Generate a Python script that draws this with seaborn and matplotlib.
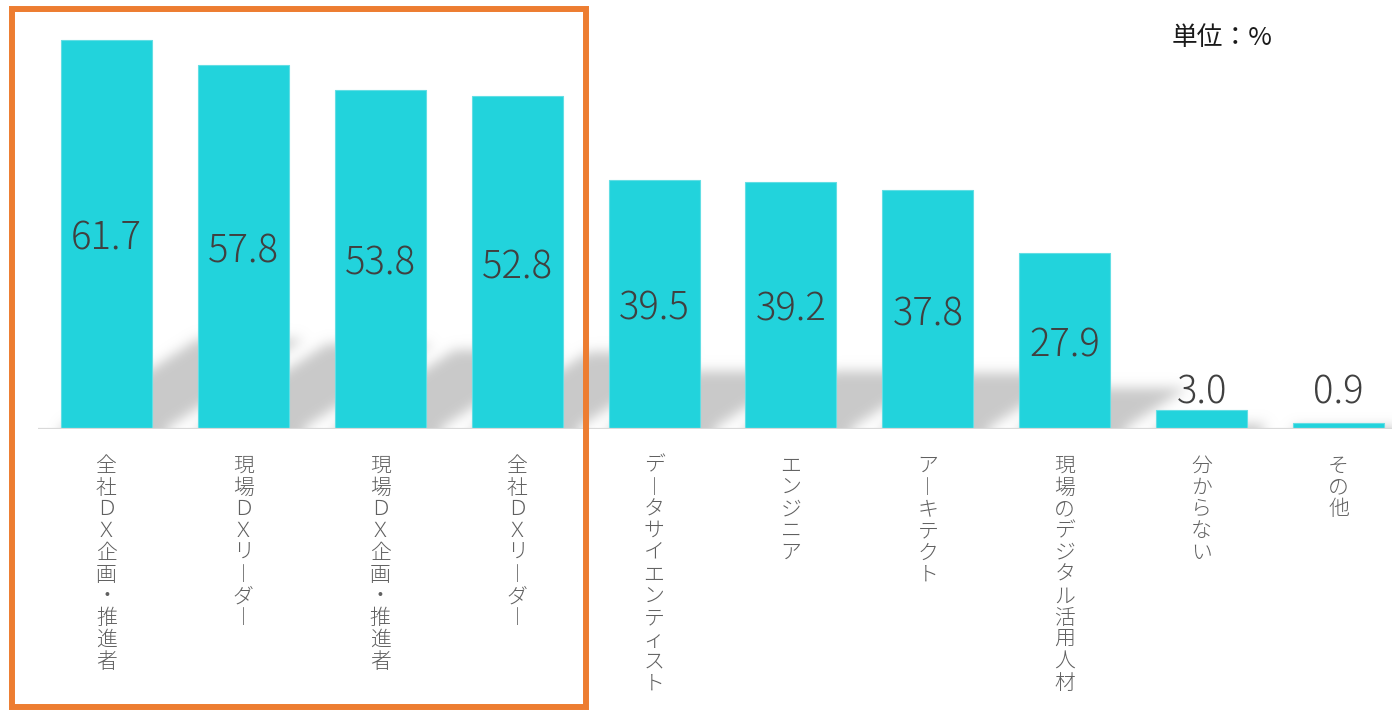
import numpy as np
import matplotlib
matplotlib.use("Agg")
import matplotlib.pyplot as plt
import seaborn as sns
import pandas as pd
from matplotlib.patches import Rectangle
from matplotlib.transforms import offset_copy

# ---- data ----
categories = ["全社DX企画・推進者", "現場DXリーダー", "現場DX企画・推進者", "全社DXリーダー",
              "データサイエンティスト", "エンジニア", "アーキテクト", "現場のデジタル活用人材",
              "分からない", "その他"]
values = [61.7, 57.8, 53.8, 52.8, 39.5, 39.2, 37.8, 27.9, 3.0, 0.9]
unit_label = "単位：%"

sns.set_theme(style="white")
plt.rcParams['font.family'] = ['Noto Sans CJK JP', 'DejaVu Sans']

W, H = 1392, 710
fig = plt.figure(figsize=(W / 100, H / 100), dpi=100)
base_px = 428.5
ymax = 68.05
ax = fig.add_axes([38 / W, (H - base_px) / H, 1369 / W, base_px / H])

bw = 0.665
df = pd.DataFrame({"cat": categories, "val": values})
sns.barplot(data=df, x="cat", y="val", order=categories, color="#22D3DC", saturation=1,
            width=bw, edgecolor="#62DEE4", linewidth=0.8, ax=ax, zorder=3)
ax.set_xlim(-0.5, 9.5)
ax.set_ylim(0, ymax)

# ---- blurred perspective shadows ----
sx = ax.transData.transform((1, 0))[0] - ax.transData.transform((0, 0))[0]
sy = ax.transData.transform((0, 1))[1] - ax.transData.transform((0, 0))[1]
nx = int(round(10 * sx))
ny = int(round(ymax * sy))
pad = 40
xs = np.arange(nx) + 0.5
ys = np.arange(-pad, ny) + 0.5
X, Y = np.meshgrid(xs, ys)
mask = np.zeros_like(X)
k = 0.65
for i, v in enumerate(values):
    x0 = (i - bw / 2 + 0.5) * sx
    x1 = (i + bw / 2 + 0.5) * sx
    hs = 0.23 * v * sy
    Yc = np.clip(Y, 0, None)
    m = (Y <= hs) & (X >= x0 + Yc / k) & (X <= x1 + 15 + Yc / k)
    mask = np.maximum(mask, m.astype(float))


def blur1d(a, sigma, axis):
    r = int(3 * sigma)
    t = np.arange(-r, r + 1)
    kern = np.exp(-t ** 2 / (2 * sigma ** 2))
    kern /= kern.sum()
    padw = [(0, 0), (0, 0)]
    padw[axis] = (r, r)
    ap = np.pad(a, padw, mode='edge')
    out = np.zeros_like(a)
    for j, kv in enumerate(kern):
        sl = [slice(None), slice(None)]
        sl[axis] = slice(j, j + a.shape[axis])
        out += kv * ap[tuple(sl)]
    return out


mask = blur1d(blur1d(mask, 6, 0), 6, 1)[pad:]
img = np.zeros((mask.shape[0], mask.shape[1], 4))
img[..., :3] = 0.79
img[..., 3] = np.clip(mask, 0, 1)
ax.imshow(img, origin='lower', extent=(-0.5, 9.5, 0, mask.shape[0] / sy),
          aspect='auto', zorder=1, interpolation='bilinear')
ax.set_xlim(-0.5, 9.5)
ax.set_ylim(0, ymax)

# baseline
ax.axhline(0, color="#D9D9D9", lw=1.6, zorder=4)

# value labels
lab_trans = offset_copy(ax.transData, fig=fig, x=0, y=-5, units='dots')
for i, v in enumerate(values):
    ax.text(i, max(v / 2, 6.43), f"{v:.1f}", ha='center', va='center', fontsize=27.5,
            color='#404040', fontweight='light', zorder=5, transform=lab_trans)


def vert(s):
    rep = {'ー': '︱', 'D': 'Ｄ', 'X': 'Ｘ'}
    return '\n'.join(rep.get(c, c) for c in s)


ax.set_xticks(range(len(categories)))
ax.set_xticklabels([vert(c) for c in categories], fontsize=15, color='#606060',
                   linespacing=0.985, va='top', fontweight='light')
ax.tick_params(axis='x', length=0, pad=19)
ax.set_yticks([])
ax.set_xlabel('')
ax.set_ylabel('')
for sp in ax.spines.values():
    sp.set_visible(False)

fig.text(1172 / W, 1 - 38 / H, unit_label, ha='left', va='center', fontsize=18.5, color='#1a1a1a')

fig.add_artist(Rectangle((12 / W, 3 / H), (585.5 - 12) / W, (707 - 9) / H,
                         transform=fig.transFigure, fill=False, ec='#ED7D31', lw=4.3, zorder=10))

fig.savefig('out.png', dpi=100)
